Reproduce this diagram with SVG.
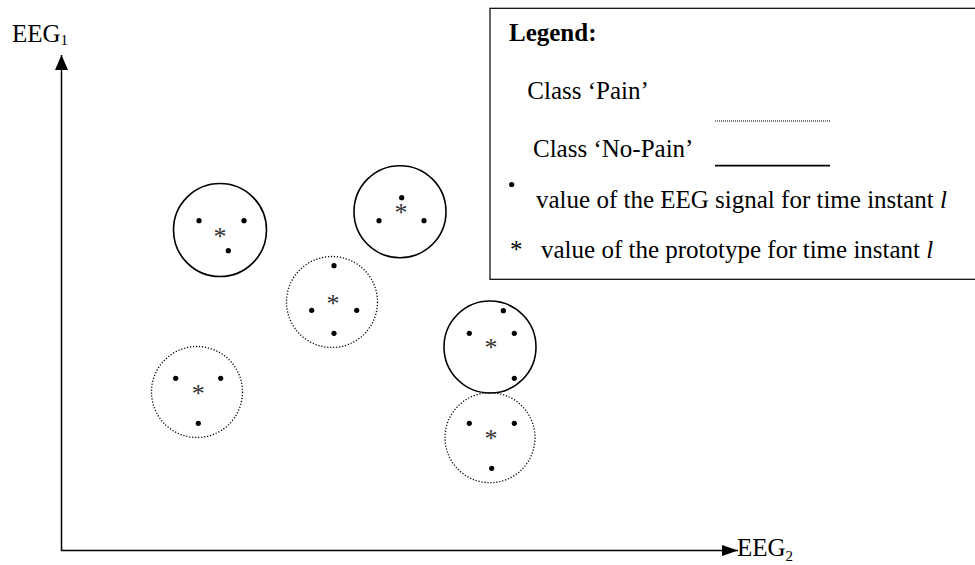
<svg xmlns="http://www.w3.org/2000/svg" width="975" height="565" viewBox="0 0 975 565">
<defs>
<style>
text{font-family:"Liberation Serif","Times New Roman",serif;fill:#000;}
.t{font-size:25px;}
.sub{font-size:15px;}
.ast{font-size:26px;fill:#333;text-anchor:middle;}
.solid{fill:none;stroke:#000;stroke-width:1.6;}
.dotted{fill:none;stroke:#000;stroke-width:1.3;stroke-dasharray:1.2 1.8;}
.dot{fill:#000;}
.axis{stroke:#000;stroke-width:1.5;fill:none;}
</style>
<marker id="ahy" viewBox="0 0 15 13" refX="15" refY="6.5" markerWidth="15" markerHeight="13" markerUnits="userSpaceOnUse" orient="auto">
<path d="M0,0 L15,6.5 L0,13 Z" fill="#000"/>
</marker>
<marker id="ahx" viewBox="0 0 16 11" refX="16" refY="5.5" markerWidth="16" markerHeight="11" markerUnits="userSpaceOnUse" orient="auto">
<path d="M0,0 L16,5.5 L0,11 Z" fill="#000"/>
</marker>
</defs>
<rect width="975" height="565" fill="#fff"/>

<g id="connectors">
<line class="axis" x1="61.5" y1="551" x2="61.5" y2="55" marker-end="url(#ahy)"/>
<line class="axis" x1="61" y1="550.5" x2="738" y2="550.5" marker-end="url(#ahx)"/>
</g>

<g id="axis-labels">
<text class="t" x="12" y="41.5">EEG<tspan class="sub" dy="3">1</tspan></text>
<text class="t" x="737" y="555.5">EEG<tspan class="sub" dy="5">2</tspan></text>
</g>

<g id="cluster1">
<circle class="solid" cx="220" cy="230" r="46.5"/>
<circle class="dot" cx="199" cy="220.7" r="2.6"/>
<circle class="dot" cx="244" cy="220.7" r="2.6"/>
<circle class="dot" cx="228.3" cy="250.7" r="2.6"/>
<text class="ast" x="220" y="244.5">*</text>
</g>

<g id="cluster2">
<circle class="solid" cx="400" cy="211.7" r="46"/>
<circle class="dot" cx="401.7" cy="197.7" r="2.6"/>
<circle class="dot" cx="379" cy="220.7" r="2.6"/>
<circle class="dot" cx="424" cy="220.7" r="2.6"/>
<text class="ast" x="401" y="220.5">*</text>
</g>

<g id="cluster3">
<circle class="dotted" cx="332" cy="302" r="45.5"/>
<circle class="dot" cx="334" cy="265.7" r="2.6"/>
<circle class="dot" cx="311.7" cy="310.3" r="2.6"/>
<circle class="dot" cx="356.7" cy="310.3" r="2.6"/>
<circle class="dot" cx="334" cy="333.3" r="2.6"/>
<text class="ast" x="333" y="312">*</text>
</g>

<g id="cluster4">
<circle class="solid" cx="490" cy="347" r="46"/>
<circle class="dot" cx="503.3" cy="310.7" r="2.6"/>
<circle class="dot" cx="469.3" cy="333.3" r="2.6"/>
<circle class="dot" cx="514.3" cy="333.3" r="2.6"/>
<circle class="dot" cx="514.3" cy="378.3" r="2.6"/>
<text class="ast" x="491" y="356.3">*</text>
</g>

<g id="cluster5">
<circle class="dotted" cx="490" cy="437.7" r="45"/>
<circle class="dot" cx="469.3" cy="423.3" r="2.6"/>
<circle class="dot" cx="514.3" cy="423.3" r="2.6"/>
<circle class="dot" cx="491.7" cy="468.3" r="2.6"/>
<text class="ast" x="491" y="447">*</text>
</g>

<g id="cluster6">
<circle class="dotted" cx="197" cy="392" r="45.5"/>
<circle class="dot" cx="175.7" cy="378.3" r="2.6"/>
<circle class="dot" cx="220.7" cy="378.3" r="2.6"/>
<circle class="dot" cx="198.3" cy="423.3" r="2.6"/>
<text class="ast" x="198.3" y="402">*</text>
</g>

<g id="legend">
<rect x="490" y="8.3" width="490" height="271" fill="#fff" stroke="#000" stroke-width="1.2"/>
<text class="t" x="509" y="41" font-weight="bold">Legend:</text>
<text class="t" x="527.3" y="99">Class ‘Pain’</text>
<line x1="715" y1="121" x2="830" y2="121" stroke="#000" stroke-width="1" stroke-dasharray="1 1"/>
<text class="t" x="533" y="156.7">Class ‘No-Pain’</text>
<line x1="715" y1="165.7" x2="830" y2="165.7" stroke="#000" stroke-width="1.8"/>
<circle class="dot" cx="511.7" cy="184.5" r="2.6"/>
<text class="t" x="536" y="208.3">value of the EEG signal for time instant <tspan font-style="italic">l</tspan></text>
<text class="t" x="510" y="258.3">*</text>
<text class="t" x="541" y="258.3">value of the prototype for time instant <tspan font-style="italic">l</tspan></text>
</g>
</svg>
